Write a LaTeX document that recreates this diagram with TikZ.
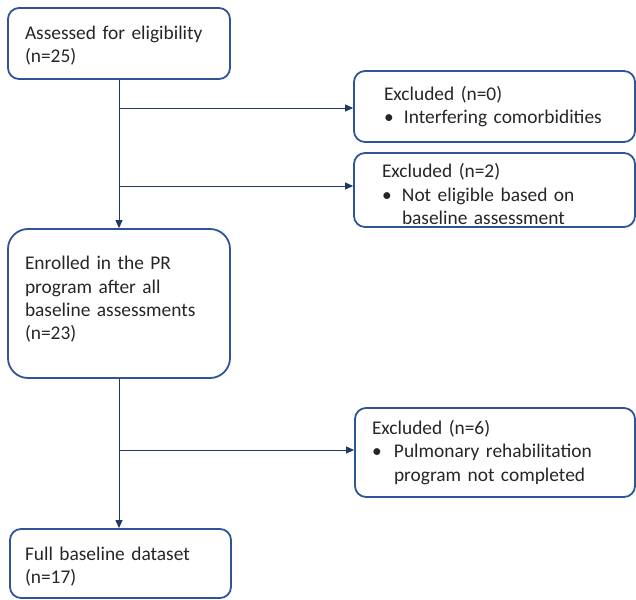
\documentclass[tikz,border=0pt]{standalone}
\usepackage{fontspec}
\setmainfont{Carlito}
\usetikzlibrary{arrows.meta}
\definecolor{boxc}{HTML}{2F5597}
\definecolor{linec}{HTML}{1F3864}
\definecolor{txtc}{HTML}{262626}
\begin{document}
\begin{tikzpicture}[x=1pt,y=-1pt,
  box/.style={draw=boxc, line width=1.8pt, rounded corners=11pt, align=left, inner ysep=0pt,
    text=txtc, font=\fontsize{19.4}{23.3}\selectfont},
  conn/.style={draw=linec, line width=1pt},
  arr/.style={conn, -{Triangle[length=8pt,width=7pt]}}]
\useasboundingbox (0,0) rectangle (636,599);
\node[box, minimum height=71pt, inner xsep=17pt, text width=188pt] (b1) at (119,43.5)
  {\rule{0pt}{17.5pt}Assessed for eligibility\\(n=25)};
\node[box, minimum height=71pt, inner xsep=30pt, text width=221pt] (b2) at (494.5,106.5)
  {Excluded (n=0)\\\makebox[20pt][l]{\textbullet}Interfering comorbidities};
\node[box, minimum height=74pt, inner xsep=28pt, text width=225pt] (b3) at (494.5,190)
  {\rule{0pt}{22.5pt}Excluded (n=2)\\\makebox[20pt][l]{\textbullet}Not eligible based on\\\hspace*{20pt}baseline assessment};
\node[box, rounded corners=20pt, minimum height=149pt, inner xsep=17pt, text width=188pt] (b4) at (119,303.5)
  {Enrolled in the PR\\program after all\\baseline assessments\\(n=23)\rule[-11pt]{0pt}{0pt}};
\node[box, minimum height=89pt, inner xsep=17pt, text width=246pt] (b5) at (495,452.5)
  {Excluded (n=6)\\\makebox[22pt][l]{\textbullet}Pulmonary rehabilitation\\\hspace*{22pt}program not completed};
\node[box, minimum height=69pt, inner xsep=15pt, text width=191pt] (b6) at (120.5,563.5)
  {\rule{0pt}{20pt}Full baseline dataset\\(n=17)};
\coordinate (j1) at (119,108);
\coordinate (j2) at (119,186);
\coordinate (j3) at (119,450);
\draw[arr] (b1.south) -- (b4.north);
\draw[arr] (j1) -- (j1 -| b2.west);
\draw[arr] (j2) -- (j2 -| b3.west);
\draw[arr] (b4.south) -- (b4.south |- b6.north);
\draw[arr] (j3) -- (j3 -| b5.west);
\end{tikzpicture}
\end{document}
